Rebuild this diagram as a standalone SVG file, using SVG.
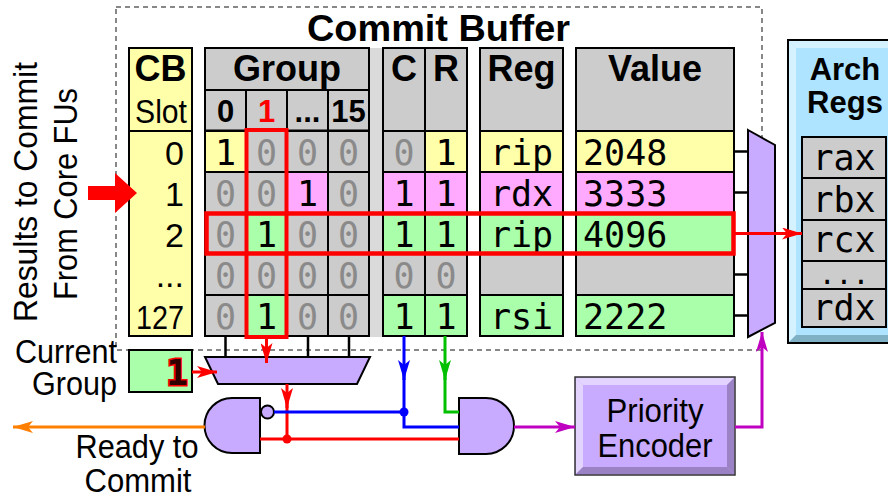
<svg xmlns="http://www.w3.org/2000/svg" width="888" height="498" viewBox="0 0 888 498">
<style>
.c{stroke:#000;stroke-width:2}
.g{fill:#cccccc}.y{fill:#ffffaa}.p{fill:#ffaaff}.n{fill:#aaffaa}
.pu{fill:#c8aaff;stroke:#000;stroke-width:2}
.s{font-family:"Liberation Sans",Arial,sans-serif;font-size:34px}
.b{font-family:"Liberation Sans",Arial,sans-serif;font-weight:bold;font-size:36px;text-anchor:middle}
.sh{font-family:"Liberation Sans",Arial,sans-serif;font-weight:bold;font-size:31px;text-anchor:middle}
.m{font-family:"DejaVu Sans Mono",monospace;font-size:35px;text-anchor:middle}
.ml{text-anchor:start}
.z{fill:#8a8a8a}
.w{fill:none;stroke-width:3}
</style>
<defs>
<marker id="aR" markerUnits="userSpaceOnUse" markerWidth="20" markerHeight="12" refX="20" refY="6" orient="auto"><path d="M0,0 L20,6 L0,12 L5,6 Z" fill="#ff0000"/></marker>
<marker id="aB" markerUnits="userSpaceOnUse" markerWidth="20" markerHeight="12" refX="20" refY="6" orient="auto"><path d="M0,0 L20,6 L0,12 L5,6 Z" fill="#0000ff"/></marker>
<marker id="aG" markerUnits="userSpaceOnUse" markerWidth="20" markerHeight="12" refX="20" refY="6" orient="auto"><path d="M0,0 L20,6 L0,12 L5,6 Z" fill="#00c000"/></marker>
<marker id="aM" markerUnits="userSpaceOnUse" markerWidth="20" markerHeight="12" refX="20" refY="6" orient="auto"><path d="M0,0 L20,6 L0,12 L5,6 Z" fill="#c000c0"/></marker>
<marker id="aO" markerUnits="userSpaceOnUse" markerWidth="20" markerHeight="12" refX="20" refY="6" orient="auto"><path d="M0,0 L20,6 L0,12 L5,6 Z" fill="#ff8000"/></marker>
</defs>

<!-- commit buffer outline -->
<rect x="116" y="7" width="646" height="343" fill="none" stroke="#888" stroke-width="2" stroke-dasharray="5,4"/>
<text class="b" x="438.5" y="41" font-size="37" textLength="263" lengthAdjust="spacingAndGlyphs">Commit Buffer</text>

<!-- side labels -->
<g id="input-label">
<text class="s" text-anchor="middle" transform="translate(37,192) rotate(-90)" textLength="260" lengthAdjust="spacingAndGlyphs">Results to Commit</text>
<text class="s" text-anchor="middle" transform="translate(77,194) rotate(-90)" textLength="212" lengthAdjust="spacingAndGlyphs">From Core FUs</text>
</g>

<!-- CB slot column -->
<g id="cb-slot">
<rect x="129" y="48" width="63" height="288" class="y c"/>
<line x1="129" y1="131" x2="192" y2="131" class="c"/>
<text class="b" x="160.5" y="81">CB</text>
<text class="s" x="161" y="123" text-anchor="middle" textLength="52" lengthAdjust="spacingAndGlyphs">Slot</text>
<g class="s" text-anchor="end">
<text x="184" y="164.5">0</text>
<text x="184" y="205.5">1</text>
<text x="184" y="246.5">2</text>
<text x="184" y="287">...</text>
<text x="184" y="328.5" textLength="48" lengthAdjust="spacingAndGlyphs">127</text>
</g>
</g>

<!-- spacer strip -->
<rect x="369" y="48" width="14" height="289" fill="#dadada"/>

<!-- group bits -->
<g id="group">
<rect x="205" y="48" width="164" height="42" class="g c"/>
<text class="b" x="287" y="81">Group</text>
<rect x="205" y="90" width="41" height="41" class="g c"/>
<rect x="246" y="90" width="41" height="41" class="g c"/>
<rect x="287" y="90" width="41" height="41" class="g c"/>
<rect x="328" y="90" width="41" height="41" class="g c"/>
<text class="sh" x="225.5" y="122">0</text>
<text class="sh" x="266.5" y="122" fill="#ff0000">1</text>
<text class="sh" x="307.5" y="122">...</text>
<text class="sh" x="348.5" y="122">15</text>
<line x1="205" y1="131" x2="369" y2="131" stroke="#000" stroke-width="3"/>
<!-- row 0 -->
<rect x="205" y="131" width="41" height="41" class="y c"/><rect x="246" y="131" width="41" height="41" class="g c"/><rect x="287" y="131" width="41" height="41" class="g c"/><rect x="328" y="131" width="41" height="41" class="g c"/>
<!-- row 1 -->
<rect x="205" y="172" width="41" height="41" class="g c"/><rect x="246" y="172" width="41" height="41" class="g c"/><rect x="287" y="172" width="41" height="41" class="p c"/><rect x="328" y="172" width="41" height="41" class="g c"/>
<!-- row 2 -->
<rect x="205" y="213" width="41" height="41" class="g c"/><rect x="246" y="213" width="41" height="41" class="n c"/><rect x="287" y="213" width="41" height="41" class="g c"/><rect x="328" y="213" width="41" height="41" class="g c"/>
<!-- row 3 -->
<rect x="205" y="254" width="41" height="41" class="g c"/><rect x="246" y="254" width="41" height="41" class="g c"/><rect x="287" y="254" width="41" height="41" class="g c"/><rect x="328" y="254" width="41" height="41" class="g c"/>
<!-- row 4 -->
<rect x="205" y="295" width="41" height="41" class="g c"/><rect x="246" y="295" width="41" height="41" class="n c"/><rect x="287" y="295" width="41" height="41" class="g c"/><rect x="328" y="295" width="41" height="41" class="g c"/>
<g class="m">
<text x="225.5" y="164.5">1</text><text x="266.5" y="164.5" class="z">0</text><text x="307.5" y="164.5" class="z">0</text><text x="348.5" y="164.5" class="z">0</text>
<text x="225.5" y="205.5" class="z">0</text><text x="266.5" y="205.5" class="z">0</text><text x="307.5" y="205.5">1</text><text x="348.5" y="205.5" class="z">0</text>
<text x="225.5" y="246.5" class="z">0</text><text x="266.5" y="246.5">1</text><text x="307.5" y="246.5" class="z">0</text><text x="348.5" y="246.5" class="z">0</text>
<text x="225.5" y="287.5" class="z">0</text><text x="266.5" y="287.5" class="z">0</text><text x="307.5" y="287.5" class="z">0</text><text x="348.5" y="287.5" class="z">0</text>
<text x="225.5" y="328.5" class="z">0</text><text x="266.5" y="328.5">1</text><text x="307.5" y="328.5" class="z">0</text><text x="348.5" y="328.5" class="z">0</text>
</g>
</g>

<!-- completed / ready bits -->
<g id="cr">
<rect x="383" y="48" width="42" height="83" class="g c"/>
<rect x="425" y="48" width="42" height="83" class="g c"/>
<text class="b" x="404" y="81">C</text>
<text class="b" x="446" y="81">R</text>
<rect x="383" y="131" width="42" height="41" class="g c"/><rect x="425" y="131" width="42" height="41" class="y c"/>
<rect x="383" y="172" width="42" height="41" class="p c"/><rect x="425" y="172" width="42" height="41" class="p c"/>
<rect x="383" y="213" width="42" height="41" class="n c"/><rect x="425" y="213" width="42" height="41" class="n c"/>
<rect x="383" y="254" width="42" height="41" class="g c"/><rect x="425" y="254" width="42" height="41" class="g c"/>
<rect x="383" y="295" width="42" height="41" class="n c"/><rect x="425" y="295" width="42" height="41" class="n c"/>
<g class="m">
<text x="404" y="164.5" class="z">0</text><text x="446" y="164.5">1</text>
<text x="404" y="205.5">1</text><text x="446" y="205.5">1</text>
<text x="404" y="246.5">1</text><text x="446" y="246.5">1</text>
<text x="404" y="287.5" class="z">0</text><text x="446" y="287.5" class="z">0</text>
<text x="404" y="328.5">1</text><text x="446" y="328.5">1</text>
</g>
</g>

<!-- destination register -->
<g id="reg">
<rect x="480" y="48" width="83" height="83" class="g c"/>
<text class="b" x="521.5" y="81">Reg</text>
<rect x="480" y="131" width="83" height="41" class="y c"/>
<rect x="480" y="172" width="83" height="41" class="p c"/>
<rect x="480" y="213" width="83" height="41" class="n c"/>
<rect x="480" y="254" width="83" height="41" class="g c"/>
<rect x="480" y="295" width="83" height="41" class="n c"/>
<g class="m">
<text x="521.5" y="164.5">rip</text>
<text x="521.5" y="205.5">rdx</text>
<text x="521.5" y="246.5">rip</text>
<text x="521.5" y="328.5">rsi</text>
</g>
</g>

<!-- result value -->
<g id="value">
<rect x="576" y="48" width="158" height="83" class="g c"/>
<text class="b" x="655" y="81">Value</text>
<rect x="576" y="131" width="158" height="41" class="y c"/>
<rect x="576" y="172" width="158" height="41" class="p c"/>
<rect x="576" y="213" width="158" height="41" class="n c"/>
<rect x="576" y="254" width="158" height="41" class="g c"/>
<rect x="576" y="295" width="158" height="41" class="n c"/>
<g class="m">
<text class="ml" x="583" y="164.5">2048</text>
<text class="ml" x="583" y="205.5">3333</text>
<text class="ml" x="583" y="246.5">4096</text>
<text class="ml" x="583" y="328.5">2222</text>
</g>
</g>

<!-- selection highlights -->
<rect x="246.5" y="130" width="40" height="207" fill="none" stroke="#ff0000" stroke-width="4"/>
<rect x="206.5" y="213.5" width="527" height="40" fill="none" stroke="#ff0000" stroke-width="4.5"/>

<!-- value mux -->
<g id="value-mux">
<g stroke="#000" stroke-width="2.5">
<line x1="734" y1="151.5" x2="748" y2="151.5"/>
<line x1="734" y1="192.5" x2="748" y2="192.5"/>
<line x1="734" y1="233.5" x2="748" y2="233.5"/>
<line x1="734" y1="274.5" x2="748" y2="274.5"/>
<line x1="734" y1="315.5" x2="748" y2="315.5"/>
</g>
<polygon points="748,130 775,145 775,323 748,337" class="pu"/>
</g>

<!-- architectural registers -->
<g id="arch-regs">
<rect x="788" y="40" width="112" height="303" fill="#aee4ff" stroke="#000" stroke-width="2"/>
<polygon points="789,41 900,41 900,48 796,48" fill="#d4f2ff"/>
<polygon points="789,41 796,48 796,335 789,342" fill="#d4f2ff"/>
<polygon points="789,342 796,335 900,335 900,342" fill="#7fb0c4"/>
<text class="sh" x="845" y="80">Arch</text>
<text class="sh" x="845" y="113">Regs</text>
<rect x="802" y="137" width="84" height="41" class="g c"/>
<rect x="802" y="178" width="84" height="42" class="g c"/>
<rect x="802" y="220" width="84" height="41" class="g c"/>
<rect x="802" y="261" width="84" height="28" class="g c"/>
<rect x="802" y="289" width="84" height="38" class="g c"/>
<g class="m">
<text x="844" y="170">rax</text>
<text x="844" y="211.5">rbx</text>
<text x="844" y="252">rcx</text>
<text x="844" y="284" font-size="28">...</text>
<text x="844" y="320">rdx</text>
</g>
</g>

<!-- current group register -->
<g id="current-group">
<text class="s" x="117" y="363" text-anchor="end" font-size="32" textLength="102" lengthAdjust="spacingAndGlyphs">Current</text>
<text class="s" x="117" y="395" text-anchor="end" font-size="32" textLength="85" lengthAdjust="spacingAndGlyphs">Group</text>
<rect x="129" y="350" width="63" height="42" class="n c"/>
<text x="188" y="385" text-anchor="end" font-family="'DejaVu Sans Mono',monospace" font-weight="bold" font-size="36" fill="#300000" stroke="#ff0000" stroke-width="3" paint-order="stroke">1</text>
</g>

<!-- group mux -->
<g id="group-mux">
<g stroke="#000" stroke-width="2.5">
<line x1="225.5" y1="336" x2="225.5" y2="357"/>
<line x1="308" y1="336" x2="308" y2="357"/>
<line x1="349" y1="336" x2="349" y2="357"/>
</g>
<polygon points="205,357 370,357 357,384 218,384" class="pu"/>
</g>

<!-- gates -->
<g id="nand-gate">
<path d="M260,398 L232,398 A27.5,27.5 0 0 0 232,453 L260,453 Z" class="pu"/>
<circle cx="267.5" cy="412" r="6.5" class="pu"/>
</g>
<g id="and-gate">
<path d="M459,398 L486,398 A28,28 0 0 1 486,454 L459,454 Z" class="pu"/>
</g>

<!-- priority encoder -->
<g id="priority-encoder">
<rect x="575" y="377" width="160" height="98" fill="#c8aaff" stroke="#333" stroke-width="1.5"/>
<polygon points="576,378 734,378 727,385 583,385" fill="#e2d4ff"/>
<polygon points="576,378 583,385 583,467 576,474" fill="#e2d4ff"/>
<polygon points="734,378 734,474 727,467 727,385" fill="#9a82c4"/>
<polygon points="576,474 734,474 727,467 583,467" fill="#9a82c4"/>
<text class="s" x="655" y="422" text-anchor="middle" textLength="97" lengthAdjust="spacingAndGlyphs">Priority</text>
<text class="s" x="655" y="457" text-anchor="middle" textLength="115" lengthAdjust="spacingAndGlyphs">Encoder</text>
</g>

<!-- wires -->
<g id="connectors">
<polygon points="88,186 115,186 115,173 137,193 115,213 115,200 88,200" fill="#ff0000"/>
<path d="M734,233.5 H802" class="w" stroke="#ff0000" marker-end="url(#aR)"/>
<path d="M266.5,337 V363" class="w" stroke="#ff0000" marker-end="url(#aR)"/>
<path d="M192,372 H217" class="w" stroke="#ff0000" marker-end="url(#aR)"/>
<path d="M287,384 V408" class="w" stroke="#ff0000" marker-end="url(#aR)"/>
<path d="M287,400 V439 M260,439 H459" class="w" stroke="#ff0000"/>
<circle cx="287" cy="439" r="4.5" fill="#ff0000"/>
<path d="M404,336 V380" class="w" stroke="#0000ff" marker-end="url(#aB)"/>
<path d="M404,372 V427 H459 M274,412 H404" class="w" stroke="#0000ff"/>
<circle cx="404" cy="412" r="4.5" fill="#0000ff"/>
<path d="M445,336 V380" class="w" stroke="#00c000" marker-end="url(#aG)"/>
<path d="M445,372 V412 H459" class="w" stroke="#00c000"/>
<path d="M205,427 H13" class="w" stroke="#ff8000" marker-end="url(#aO)"/>
<path d="M514,427 H575" class="w" stroke="#c000c0" marker-end="url(#aM)"/>
<path d="M735,427 H762 V332" class="w" stroke="#c000c0" marker-end="url(#aM)"/>
</g>

<g id="ready-label">
<text class="s" x="137" y="458" text-anchor="middle" font-size="33" textLength="123" lengthAdjust="spacingAndGlyphs">Ready to</text>
<text class="s" x="138" y="492" text-anchor="middle" font-size="33" textLength="107" lengthAdjust="spacingAndGlyphs">Commit</text>
</g>
</svg>
